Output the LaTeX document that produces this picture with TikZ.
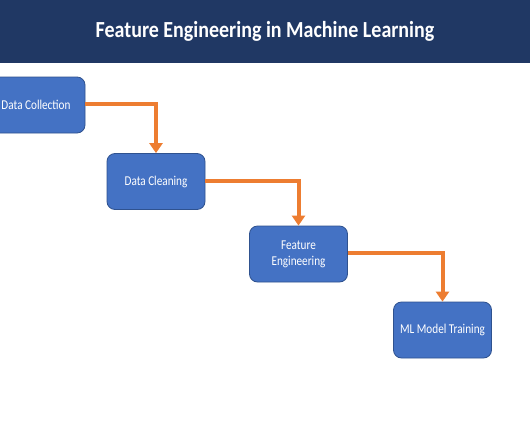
\documentclass[tikz,border=0pt]{standalone}
\usepackage{fontspec}
\setmainfont{Carlito}
\newfontfamily\boxfont[FakeStretch=0.83]{Carlito}
\newfontfamily\titlefont[FakeStretch=0.87]{Carlito}
\usetikzlibrary{arrows.meta}
\definecolor{navy}{HTML}{203864}
\definecolor{boxblue}{HTML}{4472C4}
\definecolor{boxedge}{HTML}{2F528F}
\definecolor{arroworange}{HTML}{ED7D31}
\tikzset{
  stagebox/.style={draw=boxedge, line width=0.8pt, fill=boxblue, rounded corners=8pt,
    minimum width=98pt, minimum height=56pt, text=white, font=\boxfont\fontsize{13.5}{16}\selectfont,
    align=center, inner sep=2pt},
  flow/.style={draw=arroworange, line width=4pt,
    -{Triangle[length=10pt,width=13pt]}}
}
\begin{document}
\begin{tikzpicture}[x=1pt,y=-1pt]
\useasboundingbox (0,0) rectangle (530,442);
\fill[white] (0,0) rectangle (530,442);
\fill[navy] (0,0) rectangle (530,63);
\node[text=white, font=\titlefont\bfseries\fontsize{23}{27}\selectfont] (title) at (265,31) {Feature Engineering in Machine Learning};
\node[stagebox] (collect) at (36,105) {Data Collection};
\node[stagebox] (clean) at (156,181.5) {Data Cleaning};
\node[stagebox] (feature) at (298.5,254) {Feature\\Engineering};
\node[stagebox] (train) at (442.5,330) {ML Model Training};
\draw[flow] (collect.east |- 0,104) -| (clean.north);
\draw[flow] (clean.east |- 0,181) -| (feature.north);
\draw[flow] (feature.east |- 0,253) -| (train.north);
\end{tikzpicture}
\end{document}
